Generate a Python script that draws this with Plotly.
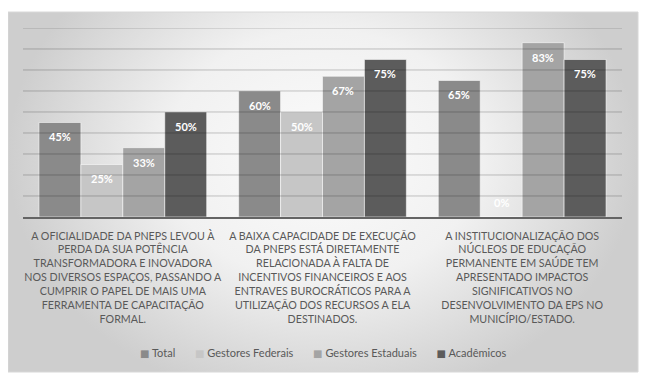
import plotly.graph_objects as go

categories = [
    "A OFICIALIDADE DA PNEPS LEVOU À<br>PERDA DA SUA POTÊNCIA<br>TRANSFORMADORA E INOVADORA<br>NOS DIVERSOS ESPAÇOS, PASSANDO A<br>CUMPRIR O PAPEL DE MAIS UMA<br>FERRAMENTA DE CAPACITAÇÃO<br>FORMAL.",
    "A BAIXA CAPACIDADE DE EXECUÇÃO<br>DA PNEPS ESTÁ DIRETAMENTE<br>RELACIONADA À FALTA DE<br>INCENTIVOS FINANCEIROS E AOS<br>ENTRAVES BUROCRÁTICOS PARA A<br>UTILIZAÇÃO DOS RECURSOS A ELA<br>DESTINADOS.",
    "A INSTITUCIONALIZAÇÃO DOS<br>NÚCLEOS DE EDUCAÇÃO<br>PERMANENTE EM SAÚDE TEM<br>APRESENTADO IMPACTOS<br>SIGNIFICATIVOS NO<br>DESENVOLVIMENTO DA EPS NO<br>MUNICÍPIO/ESTADO.",
]

series_names = ["Total", "Gestores Federais", "Gestores Estaduais", "Acadêmicos"]
total = [0.45, 0.60, 0.65]
gestores_federais = [0.25, 0.50, 0.0]
gestores_estaduais = [0.33, 0.67, 0.83]
academicos = [0.50, 0.75, 0.75]
series_values = [total, gestores_federais, gestores_estaduais, academicos]

grid_values = [0.1, 0.2, 0.3, 0.4, 0.5, 0.6, 0.7, 0.8, 0.9]

colors = ["#8a8a8a", "#c6c6c6", "#a4a4a4", "#5c5c5c"]
FONT = "Lato"
TXT = "#595959"
BARGAP = 0.16

fig = go.Figure()

# background gradient panel (decorative)
fig.add_trace(go.Scatter(
    x=[0, 1, 1, 0, 0], y=[-0.1, -0.1, 1.3, 1.3, -0.1], xaxis="x", yaxis="y",
    mode="lines", line=dict(width=0), fill="toself",
    fillgradient=dict(type="radial",
                      colorscale=[[0, "#fbfbfb"], [0.5, "#f1f1f1"], [0.8, "#dcdcdc"], [1, "#cecece"]]),
    hoverinfo="skip", showlegend=False,
))

cat_idx = list(range(len(categories)))
for name, vals, col in zip(series_names, series_values, colors):
    fig.add_trace(go.Bar(
        name=name, x=cat_idx, y=vals, xaxis="x2", yaxis="y2",
        marker=dict(color=col, line=dict(color="rgba(255,255,255,0.55)", width=1)),
        hoverinfo="skip", showlegend=False,
    ))

# data labels placed from data through the axes
n = len(series_names)
bw = (1 - BARGAP) / n
for i, vals in enumerate(series_values):
    off = (i - (n - 1) / 2) * bw
    for j, v in enumerate(vals):
        fig.add_annotation(
            xref="x2", yref="y2", x=cat_idx[j] + off, y=v,
            text=f"{v:.0%}", showarrow=False,
            yanchor="top" if v > 0 else "bottom", yshift=-6 if v > 0 else 6,
            font=dict(family=FONT, size=11, color="white", weight="bold"),
        )

for v in grid_values:
    fig.add_shape(type="line", xref="x2 domain", x0=0, x1=1, yref="y2", y0=v, y1=v,
                  line=dict(color="rgba(0,0,0,0.22)", width=1), layer="above")

fig.add_shape(type="rect", xref="paper", yref="paper", x0=0, x1=1, y0=0, y1=1,
              line=dict(color="#d8d8d8", width=1), layer="above")

# legend box + entries
fig.add_shape(type="rect", xref="paper", yref="paper", x0=0.175, x1=0.825, y0=0.025, y1=0.085,
              line=dict(width=0), fillcolor="rgba(255,255,255,0.35)", layer="below")
legend_parts = []
for name, col in zip(series_names, colors):
    legend_parts.append(f"<span style='color:{col};font-family:DejaVu Sans;font-size:10px'>■</span> {name}")
fig.add_annotation(
    xref="paper", yref="paper", x=0.5, y=0.055, xanchor="center", yanchor="middle",
    text=("&nbsp;" * 7).join(legend_parts), showarrow=False,
    font=dict(family=FONT, size=11, color=TXT),
)

fig.update_layout(
    width=642, height=374,
    margin=dict(l=0, r=12, t=4, b=10),
    paper_bgcolor="white", plot_bgcolor="rgba(0,0,0,0)",
    font=dict(family=FONT, size=11, color=TXT),
    barmode="group", bargap=BARGAP, bargroupgap=0,
    xaxis=dict(domain=[0, 1], range=[0, 1], visible=False, fixedrange=True),
    yaxis=dict(domain=[0, 1], range=[0, 1], visible=False, fixedrange=True),
    xaxis2=dict(domain=[0.0238, 0.9746], anchor="y2", tickmode="array",
                tickvals=cat_idx, ticktext=categories, showgrid=False,
                range=[-0.5, len(categories) - 0.5],
                showline=True, linecolor="#646464", linewidth=1.5,
                ticks="", ticklabelstandoff=8, tickangle=0, automargin=False,
                tickfont=dict(family=FONT, size=10.7, color=TXT)),
    yaxis2=dict(domain=[0.4306, 0.9556], anchor="x2", range=[0, 0.9],
                showgrid=False, showticklabels=False, zeroline=False, automargin=False),
    showlegend=False,
)

fig.write_html("out.html")
